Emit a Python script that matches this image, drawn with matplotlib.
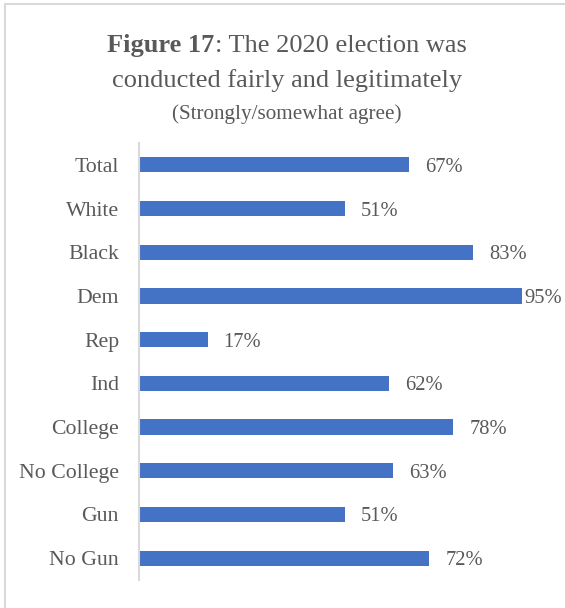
import matplotlib.pyplot as plt
from matplotlib.patches import Rectangle

groups = ["Total", "White", "Black", "Dem", "Rep", "Ind",
          "College", "No College", "Gun", "No Gun"]
agree_pct = [67, 51, 83, 95, 17, 62, 78, 63, 51, 72]

BAR_BLUE = "#4472C4"
TEXT_GRAY = "#595959"
LINE_GRAY = "#D9D9D9"
SERIF = "Liberation Serif"

W, H, DPI = 565, 608, 100
fig = plt.figure(figsize=(W / DPI, H / DPI), dpi=DPI)
fig.patch.set_facecolor("white")

# chart frame: only the top and left edges fall inside the image
fig.add_artist(Rectangle((5 / W, -0.1), 1.2, (H - 3.5) / H + 0.1,
                         transform=fig.transFigure, fill=False,
                         edgecolor=LINE_GRAY, linewidth=1.5))

ax = fig.add_axes([139 / W, 28 / H, 403 / W, 437 / H])
ypos = list(range(len(groups)))
ax.barh(ypos, agree_pct, height=0.35, color=BAR_BLUE)
ax.set_xlim(0, 100)
ax.set_ylim(len(groups) - 0.5, -0.5)
ax.set_yticks(ypos)
ax.set_yticklabels(groups, fontfamily=SERIF, fontsize=15.7, color=TEXT_GRAY,
                   va="center_baseline")
ax.tick_params(axis="y", length=0, pad=14.4)
ax.set_xticks([])
for side in ["top", "right", "bottom"]:
    ax.spines[side].set_visible(False)
ax.spines["left"].set_color(LINE_GRAY)
ax.spines["left"].set_linewidth(1.5)

fig.canvas.draw()
renderer = fig.canvas.get_renderer()

# value labels, kept inside the chart frame on the right
for y, v in zip(ypos, agree_pct):
    t = ax.annotate(f"{v}%", (v, y), xytext=(16, 0), textcoords="offset pixels",
                    fontfamily=SERIF, fontsize=14.8, color=TEXT_GRAY,
                    ha="left", va="center_baseline", annotation_clip=False)
    bb = t.get_window_extent(renderer)
    if bb.x1 > 562:
        t.xyann = (16 - (bb.x1 - 562), 0)

# title: bold figure number followed by regular text, centred as one line
cx = 287 / W
t1 = fig.text(0, 1 - 52 / H, "Figure 17", fontfamily=SERIF, fontsize=19,
              fontweight="bold", color=TEXT_GRAY, va="baseline")
t2 = fig.text(0, 1 - 52 / H, ": The 2020 election was", fontfamily=SERIF,
              fontsize=19, color=TEXT_GRAY, va="baseline")
w1 = t1.get_window_extent(renderer).width
w2 = t2.get_window_extent(renderer).width
x0 = cx * W - (w1 + w2) / 2
t1.set_x(x0 / W)
t2.set_x((x0 + w1) / W)

fig.text(cx, 1 - 86.5 / H, "conducted fairly and legitimately", fontfamily=SERIF,
         fontsize=19, color=TEXT_GRAY, ha="center", va="baseline")
fig.text(cx, 1 - 119 / H, "(Strongly/somewhat agree)", fontfamily=SERIF,
         fontsize=15.2, color=TEXT_GRAY, ha="center", va="baseline")

fig.savefig("out.png", dpi=DPI, facecolor="white")
